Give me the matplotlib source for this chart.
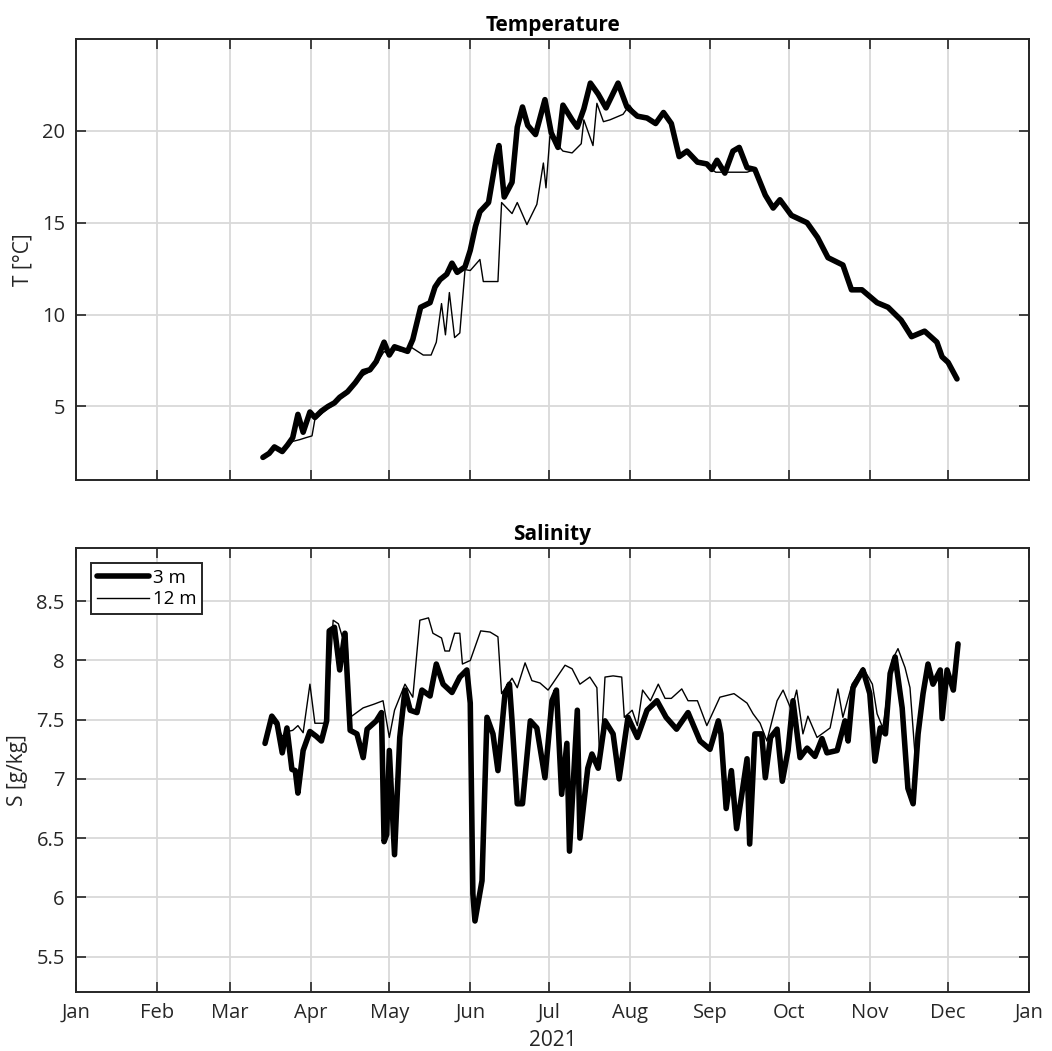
import numpy as np
import matplotlib
matplotlib.use('Agg')
import matplotlib.pyplot as plt
import matplotlib.dates as mdates
from datetime import datetime

plt.rcParams['font.family'] = ['Open Sans', 'DejaVu Sans']

# day of year (0 = 1 Jan 2021) and values
t3_day = [71.6, 74, 76, 79, 81, 83, 85, 87, 89.6, 91.5, 94, 96.5, 99, 101, 104, 107, 110, 112.6,
          115, 118, 120, 122, 125, 127, 129, 132, 135.6, 137.5, 139.4, 142, 144, 146, 149, 151,
          153, 154.7, 158, 161, 162, 164, 167, 169, 171, 173, 176, 179.6, 182, 184.6, 186.5, 190,
          192, 194.5, 197, 200, 203, 207.6, 211, 215, 218.7, 222, 225, 228, 231, 234, 238, 241.6,
          243.5, 245.5, 248.5, 251.6, 254, 257, 260, 264, 267, 269.6, 274, 280, 284, 288, 293.7,
          297, 301, 306.8, 311, 316, 320, 325, 329.7, 331.7, 334, 337.4]
t3_val = [2.23, 2.45, 2.8, 2.55, 2.9, 3.3, 4.57, 3.6, 4.7, 4.4, 4.75, 5.0, 5.2, 5.5, 5.8, 6.3, 6.9, 7.0,
          7.45, 8.5, 7.8, 8.25, 8.1, 8.0, 8.65, 10.4, 10.65, 11.5, 11.9, 12.2, 12.8, 12.3, 12.6, 13.5,
          14.8, 15.6, 16.1, 18.6, 19.2, 16.4, 17.2, 20.2, 21.3, 20.3, 19.8, 21.7, 19.9, 19.1, 21.4, 20.6,
          20.2, 21.2, 22.6, 22.0, 21.25, 22.6, 21.3, 20.8, 20.7, 20.4, 21.0, 20.4, 18.6, 18.9, 18.3, 18.2,
          17.9, 18.4, 17.7, 18.9, 19.1, 18.0, 17.9, 16.5, 15.8, 16.25, 15.4, 15.0, 14.2, 13.1, 12.7,
          11.35, 11.35, 10.65, 10.4, 9.7, 8.8, 9.1, 8.5, 7.7, 7.4, 6.5]

t12_day = [71.6, 74, 76, 79, 81, 83, 85.8, 88, 90.4, 91.5, 94, 96.5, 99, 101, 104, 107, 110, 112.6,
           115, 118, 120, 122, 125, 128, 133, 136, 138, 140, 141.5, 143, 145, 147, 149, 151, 154.7,
           156, 161.6, 163, 167, 169, 172.7, 176.5, 179, 180, 181.5, 186.5, 190, 193.5, 194.5, 198,
           199.5, 202, 204.5, 209.5, 212, 215, 218.7, 222, 225, 228, 231, 234, 238, 241.6, 243.5,
           245, 257, 260, 264, 267, 269.6, 274, 280, 284, 288, 293.7, 297, 301, 306.8, 311, 316, 318,
           320, 325, 329.7, 331.7, 334, 337.4]
t12_val = [2.23, 2.45, 2.75, 2.6, 2.85, 3.1, 3.2, 3.3, 3.4, 4.3, 4.6, 4.9, 5.1, 5.4, 5.7, 6.2, 6.7, 6.9,
           7.3, 8.0, 7.8, 8.1, 8.0, 8.26, 7.8, 7.8, 8.5, 10.6, 8.9, 11.2, 8.75, 9.0, 12.45, 12.4, 13.0,
           11.8, 11.8, 16.1, 15.5, 16.1, 14.9, 16.0, 18.25, 16.9, 19.7, 18.9, 18.8, 19.3, 20.6, 19.2,
           21.5, 20.5, 20.6, 20.9, 21.4, 20.8, 20.7, 20.4, 21.0, 20.4, 18.6, 18.9, 18.3, 18.2, 17.9,
           17.75, 17.75, 17.9, 16.5, 15.8, 16.1, 15.4, 15.0, 14.2, 13.1, 12.7, 11.35, 11.35, 10.65,
           10.4, 9.8, 9.45, 8.9, 9.1, 8.5, 7.7, 7.4, 6.5]

s3_day = [72.4, 75, 77, 79, 80.8, 82.7, 84, 85, 87, 89.6, 92, 94, 96, 97, 99, 101, 103, 105, 107.6,
          110, 111.5, 115, 117, 118, 119, 120, 122, 124, 126, 128, 130.6, 132.5, 135.6, 138, 140.6,
          144, 147, 149.7, 151, 152, 152.8, 155.5, 157.4, 159.7, 161.6, 164.3, 166, 167, 169, 171,
          174, 176.5, 179.6, 182.3, 184, 186, 188, 189, 192, 193, 196, 197.6, 200, 202.6, 205.7, 208,
          211.4, 215, 218.7, 222.5, 226, 230, 234.4, 239, 242.8, 246, 247, 249, 251, 253, 255, 257,
          258, 260, 262.6, 264, 266, 268.5, 270.5, 272.7, 274.6, 277.3, 280, 283, 285.7, 287.6,
          291.5, 294.5, 295.7, 297.6, 301.4, 304, 306, 308, 310, 311.8, 313.7, 316.4, 318.6, 320.6,
          322.5, 324.4, 326.3, 328.2, 331, 331.7, 333.6, 336, 337.8]
s3_val = [7.30, 7.53, 7.47, 7.22, 7.43, 7.08, 7.07, 6.88, 7.24, 7.40, 7.36, 7.32, 7.49, 8.25, 8.28,
          7.92, 8.23, 7.41, 7.38, 7.18, 7.42, 7.49, 7.56, 6.47, 6.53, 7.24, 6.36, 7.35, 7.75, 7.58,
          7.56, 7.75, 7.70, 7.97, 7.80, 7.73, 7.86, 7.92, 7.64, 6.03, 5.80, 6.14, 7.52, 7.38, 7.07,
          7.72, 7.80, 7.49, 6.79, 6.79, 7.49, 7.43, 7.01, 7.66, 7.75, 6.87, 7.30, 6.39, 7.58, 6.50,
          7.09, 7.21, 7.09, 7.49, 7.38, 7.00, 7.52, 7.35, 7.58, 7.66, 7.52, 7.42, 7.56, 7.32, 7.25,
          7.49, 7.38, 6.75, 7.07, 6.58, 6.87, 7.17, 6.45, 7.38, 7.38, 7.01, 7.35, 7.42, 6.98, 7.24,
          7.66, 7.18, 7.26, 7.19, 7.34, 7.22, 7.24, 7.49, 7.32, 7.77, 7.92, 7.72, 7.15, 7.43, 7.38,
          7.89, 8.03, 7.60, 6.92, 6.79, 7.38, 7.72, 7.97, 7.80, 7.92, 7.51, 7.92, 7.75, 8.14]

s12_day = [72.4, 75, 77, 79, 81, 83, 85, 87, 89.6, 91.5, 96, 98.5, 100.5, 102, 103.7, 105, 110, 114,
           117.6, 120, 122, 126, 129, 131.7, 135, 136.7, 140, 141.3, 143, 145, 147, 148, 151, 155,
           158.6, 161.6, 163, 167, 169, 172, 174.6, 177.7, 180.8, 182.7, 187.3, 190, 193, 196.8,
           199.5, 200.7, 202.6, 205.7, 209, 210, 213, 215, 217, 220, 223, 225.6, 228, 232, 234.4,
           238, 241.6, 246.6, 252, 257, 259.3, 262, 264.6, 268.5, 270.8, 274, 276, 278.4, 280.3,
           283.8, 288.8, 291.8, 293.7, 297.2, 301.4, 305, 306.8, 309, 312.5, 314.8, 317.5, 319.4,
           321.3, 323.3, 326.3, 328.2, 331, 331.7, 333.6, 336, 337.8]
s12_val = [7.30, 7.48, 7.45, 7.36, 7.40, 7.41, 7.45, 7.39, 7.80, 7.47, 7.47, 8.34, 8.31, 8.20, 8.23,
           7.52, 7.60, 7.63, 7.66, 7.35, 7.58, 7.80, 7.69, 8.34, 8.36, 8.23, 8.19, 8.08, 8.08, 8.23,
           8.23, 7.97, 8.00, 8.25, 8.24, 8.20, 7.72, 7.85, 7.77, 7.98, 7.83, 7.81, 7.75, 7.81, 7.96,
           7.93, 7.80, 7.86, 7.77, 7.09, 7.86, 7.87, 7.86, 7.52, 7.58, 7.45, 7.75, 7.66, 7.80, 7.68,
           7.68, 7.76, 7.66, 7.66, 7.45, 7.69, 7.72, 7.64, 7.55, 7.47, 7.32, 7.66, 7.75, 7.58, 7.75,
           7.38, 7.53, 7.35, 7.43, 7.76, 7.52, 7.80, 7.94, 7.80, 7.55, 7.43, 8.00, 8.10, 7.94, 7.77,
           7.21, 7.52, 7.97, 7.80, 7.92, 7.55, 7.92, 7.75, 8.12]

t0 = mdates.date2num(datetime(2021, 1, 1))
x_lim = [datetime(2021, 1, 1), datetime(2022, 1, 1)]
axc = '#262626'

fig = plt.figure(figsize=(10.52, 10.51), dpi=100)
ax1 = fig.add_axes([0.0722, 0.5433, 0.906, 0.4196])
ax2 = fig.add_axes([0.0722, 0.0561, 0.906, 0.4225])

thick = dict(color='k', lw=4.0, solid_joinstyle='round', solid_capstyle='round', zorder=3)
thin = dict(color='k', lw=1.0, zorder=4)
ax1.plot(t0 + np.array(t3_day), t3_val, label='3 m', **thick)
ax1.plot(t0 + np.array(t12_day), t12_val, label='12 m', **thin)
ax2.plot(t0 + np.array(s3_day), s3_val, label='3 m', **thick)
ax2.plot(t0 + np.array(s12_day), s12_val, label='12 m', **thin)

for ax in (ax1, ax2):
    ax.set_xlim(x_lim)
    ax.xaxis.set_major_locator(mdates.MonthLocator())
    ax.xaxis.set_major_formatter(mdates.DateFormatter('%b'))
    ax.grid(True, color='#d9d9d9', lw=1.3)
    ax.set_axisbelow(True)
    for s in ax.spines.values():
        s.set_color(axc)
        s.set_linewidth(1.4)
    ax.tick_params(direction='in', length=7, width=1.2, color=axc, labelcolor=axc,
                   labelsize=14.5, top=True, right=True, pad=8)

ax1.set_ylim(1, 25)
ax1.set_yticks([5, 10, 15, 20])
ax1.tick_params(labelbottom=False)
ax1.set_ylabel('T [°C]', fontsize=15, color=axc, labelpad=6)
ax1.set_title('Temperature', fontsize=15, fontweight='bold', color='k', pad=6)

ax2.set_ylim(5.2, 8.95)
ax2.set_yticks([5.5, 6, 6.5, 7, 7.5, 8, 8.5])
ax2.set_yticklabels(['5.5', '6', '6.5', '7', '7.5', '8', '8.5'])
ax2.set_ylabel('S [g/kg]', fontsize=15, color=axc, labelpad=6)
ax2.set_xlabel('2021', fontsize=15, color=axc, labelpad=5)
ax2.set_title('Salinity', fontsize=15, fontweight='bold', color='k', pad=6)
leg = ax2.legend(loc='upper left', fontsize=13.5, frameon=True, fancybox=False,
                 borderaxespad=0.8, handlelength=2.8, handletextpad=0.2,
                 borderpad=0.3, labelspacing=0.2)
leg.get_frame().set_edgecolor(axc)
leg.get_frame().set_linewidth(1.4)
leg.get_frame().set_alpha(1)

fig.savefig('out.png', dpi=100)
